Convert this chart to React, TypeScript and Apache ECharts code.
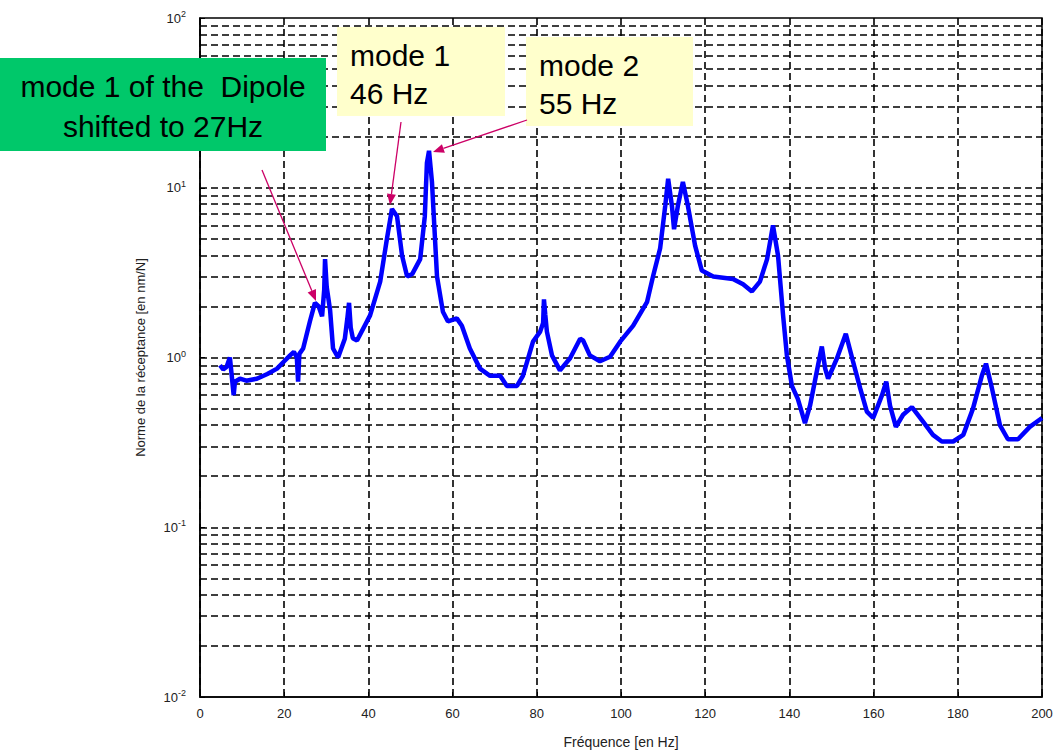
import React, { useEffect, useRef } from "react";
import * as echarts from "echarts";

const freqHz = [4.75, 5.5, 6.3, 7.1, 7.5, 8.0, 8.3, 9.5, 11, 13.5, 16, 18.3, 20, 21.4, 22.3, 23, 23.3, 23.6, 24.5, 26.1, 27.3, 28.2, 29, 29.5, 29.7, 30.1, 30.9, 31.6, 32.8, 34.4, 35.0, 35.4, 35.8, 36.3, 37.3, 40.4, 42.8, 44.4, 45.6, 46.8, 48, 49.2, 50.4, 52.3, 53.4, 53.9, 54.4, 55.1, 56.3, 57.7, 58.9, 61, 62.2, 64.1, 66.5, 68.9, 71.3, 72.9, 75.3, 76.7, 79.1, 80.8, 81.5, 81.7, 82.0, 82.4, 83.6, 85.5, 87.9, 90.3, 91, 92.6, 95, 97.4, 99.8, 102.9, 106.2, 107.6, 109.3, 110.5, 111.2, 112.1, 112.6, 113.5, 114.7, 115.9, 117.6, 119.2, 121.9, 126.6, 129, 131.1, 133, 134.7, 136.1, 137.3, 138.5, 139.4, 140.6, 142, 143.7, 144.9, 146.8, 147.7, 148.5, 149.2, 151.3, 153.4, 155.1, 156.8, 158.4, 159.9, 162, 163, 163.9, 165.3, 167, 169.1, 171.7, 174.1, 176.2, 178.9, 181.3, 183.6, 185.7, 186.7, 188.1, 190, 191.9, 194.3, 197.1, 200];

const receptance = [0.9, 0.85, 0.88, 1.0, 0.8, 0.6, 0.72, 0.75, 0.73, 0.75, 0.8, 0.86, 0.95, 1.03, 1.08, 1.0, 0.72, 1.05, 1.13, 1.63, 2.1, 2.0, 1.75, 2.5, 3.8, 2.6, 1.9, 1.13, 1.0, 1.29, 1.7, 2.1, 1.5, 1.3, 1.26, 1.77, 2.8, 5.0, 7.5, 6.8, 3.98, 3.0, 3.1, 3.8, 6.8, 14, 16.5, 10.8, 3.0, 1.86, 1.63, 1.7, 1.54, 1.13, 0.86, 0.78, 0.78, 0.68, 0.68, 0.78, 1.24, 1.42, 1.6, 2.2, 1.8, 1.42, 1.03, 0.84, 0.99, 1.29, 1.26, 1.03, 0.95, 1.01, 1.24, 1.54, 2.13, 3.0, 4.4, 7.8, 11.3, 7.8, 5.7, 7.8, 10.8, 7.8, 4.56, 3.25, 3.0, 2.9, 2.7, 2.45, 2.8, 3.8, 6.0, 3.98, 1.77, 1.03, 0.68, 0.57, 0.41, 0.52, 0.9, 1.16, 0.86, 0.75, 0.99, 1.38, 0.95, 0.66, 0.48, 0.44, 0.6, 0.72, 0.52, 0.39, 0.46, 0.51, 0.42, 0.35, 0.32, 0.32, 0.35, 0.5, 0.78, 0.92, 0.66, 0.4, 0.33, 0.33, 0.39, 0.44];

const gridValues: number[] = [];
[0.01, 0.1, 1, 10].forEach((d) => {
  for (let k = 1; k <= 9; k++) {
    if (d === 0.01 && k === 1) continue;
    gridValues.push(+(d * k).toPrecision(3));
  }
});

const xTitle = "Fréquence [en Hz]";
const yTitle = "Norme de la réceptance [en nm/N]";

const notes = [
  { lines: ["mode 1 of the  Dipole", "shifted to 27Hz"], box: [0, 58, 326, 93], fill: "#00c86a", align: "center", gap: 40 },
  { lines: ["mode 1", "46 Hz"], box: [337, 27, 168, 89], fill: "#ffffcc", align: "left", gap: 38 },
  { lines: ["mode 2", "55 Hz"], box: [526, 37, 167, 89], fill: "#ffffcc", align: "left", gap: 38 },
];
const arrows = [
  [262, 170, 316, 301],
  [401, 122, 390, 205],
  [527, 120, 433, 152],
];

function arrowGraphic(a: number[]) {
  const [x1, y1, x2, y2] = a;
  const dx = x2 - x1, dy = y2 - y1;
  const len = Math.hypot(dx, dy);
  const ux = dx / len, uy = dy / len;
  const hl = 11, hw = 4.5;
  const bx = x2 - ux * hl, by = y2 - uy * hl;
  const px = -uy, py = ux;
  return [
    { type: "line", shape: { x1, y1, x2: bx, y2: by }, style: { stroke: "#cc0066", lineWidth: 1.3 }, z: 100 },
    {
      type: "polygon",
      shape: { points: [[x2, y2], [bx + px * hw, by + py * hw], [bx - px * hw, by - py * hw]] },
      style: { fill: "#cc0066" },
      z: 100,
    },
  ];
}

export default function App() {
  const ref = useRef<HTMLDivElement>(null);
  useEffect(() => {
    document.body.style.margin = "0";
    const chart = echarts.init(ref.current!, undefined, { renderer: "svg" });
    const graphics: any[] = [];
    notes.forEach((n) => {
      const [x, y, w, h] = n.box;
      graphics.push({ type: "rect", shape: { x, y, width: w, height: h }, style: { fill: n.fill }, z: 90 });
      n.lines.forEach((t, i) => {
        graphics.push({
          type: "text",
          x: n.align === "center" ? x + w / 2 : x + 13,
          y: y + 28 + i * n.gap,
          style: {
            text: t,
            fill: "#000",
            font: "30px 'Liberation Sans', Arial, sans-serif",
            textAlign: n.align,
            textVerticalAlign: "middle",
          },
          z: 95,
        });
      });
    });
    arrows.forEach((a) => graphics.push(...arrowGraphic(a)));

    chart.setOption({
      animation: false,
      backgroundColor: "#fff",
      grid: { left: 200, right: 16, top: 18, bottom: 56, show: true, borderColor: "#000", borderWidth: 1.5, backgroundColor: "transparent" },
      xAxis: {
        type: "value",
        min: 0,
        max: 200,
        interval: 20,
        name: xTitle,
        nameLocation: "middle",
        nameGap: 38,
        nameTextStyle: { fontFamily: "Liberation Sans", fontSize: 14, color: "#222" },
        axisLine: { lineStyle: { color: "#000", width: 1.5 } },
        axisTick: { inside: true, length: 5, lineStyle: { color: "#000" } },
        axisLabel: { fontFamily: "Liberation Sans", fontSize: 13, color: "#222", margin: 10 },
        splitLine: { show: true, lineStyle: { color: "#000", type: [7, 4], width: 1.6 } },
      },
      yAxis: {
        type: "log",
        logBase: 10,
        min: 0.01,
        max: 100,
        name: yTitle,
        nameLocation: "middle",
        nameGap: 53,
        nameTextStyle: { fontFamily: "Liberation Sans", fontSize: 13, color: "#222" },
        axisLine: { lineStyle: { color: "#000", width: 1.5 } },
        axisTick: { inside: true, length: 5, lineStyle: { color: "#000" } },
        splitLine: { show: false },
        axisLabel: {
          margin: 14,
          formatter: (v: number) => `{b|10}{s|${Math.round(Math.log10(v))}}`,
          rich: {
            b: { fontFamily: "Liberation Sans", fontSize: 13, color: "#222" },
            s: { fontFamily: "Liberation Sans", fontSize: 9, color: "#222", verticalAlign: "top", padding: [0, 0, 8, 0] },
          },
        },
      },
      series: [
        {
          type: "line",
          data: freqHz.map((f, i) => [f, receptance[i]]),
          showSymbol: false,
          lineStyle: { color: "#0000ff", width: 4.5 },
          z: 10,
          markLine: {
            silent: true,
            symbol: "none",
            label: { show: false },
            lineStyle: { color: "#000", type: [7, 4], width: 1.6 },
            data: gridValues.map((v) => ({ yAxis: v })),
            z: 1,
          },
        },
      ],
      graphic: graphics,
    });
    return () => chart.dispose();
  }, []);
  return <div ref={ref} style={{ width: 1058, height: 754 }} />;
}
